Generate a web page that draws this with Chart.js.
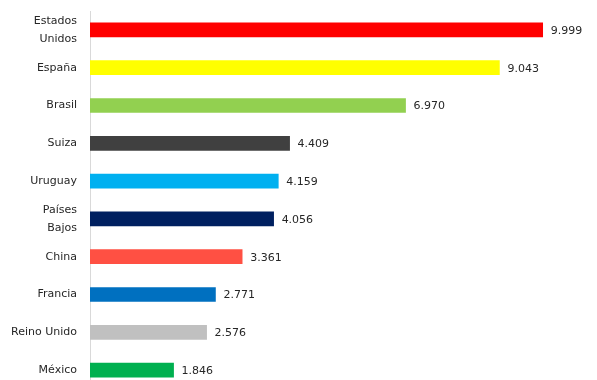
<!DOCTYPE html>
<html>
<head>
<meta charset="utf-8">
<script src="https://cdn.jsdelivr.net/npm/chart.js@4"></script>
<style>
  html, body { margin: 0; padding: 0; background: #fff; overflow: hidden; }
  #wrap { width: 597px; height: 380px; overflow: hidden; }
</style>
</head>
<body>
<div id="wrap"><canvas id="chart" width="597" height="400"></canvas></div>
<script>
// --- DATOS ---
const paises = [['Estados', 'Unidos'], 'España', 'Brasil', 'Suiza', 'Uruguay', ['Países', 'Bajos'], 'China', 'Francia', 'Reino Unido', 'México'];
const valores = [9999, 9043, 6970, 4409, 4159, 4056, 3361, 2771, 2576, 1846];
const colores = ['#FF0000', '#FFFF00', '#92D050', '#404040', '#00B0F0', '#002060', '#FF5043', '#0070C0', '#C0C0C0', '#00B050'];

const fuente = '"DejaVu Sans", sans-serif';

// separador de miles con punto (9.999)
function formatoMiles(v) {
    return String(v).replace(/\B(?=(\d{3})+(?!\d))/g, '.');
}

// Etiquetas de valor a la derecha de cada barra
const etiquetasValor = {
    id: 'etiquetasValor',
    afterDatasetsDraw(chart) {
        const ctx = chart.ctx;
        const meta = chart.getDatasetMeta(0);
        ctx.save();
        ctx.font = '11px ' + fuente;
        ctx.fillStyle = '#262626';
        ctx.textAlign = 'left';
        ctx.textBaseline = 'middle';
        meta.data.forEach((bar, i) => {
            ctx.fillText(formatoMiles(valores[i]), bar.x + 8, bar.y + 1);
        });
        ctx.restore();
    }
};

new Chart(document.getElementById('chart'), {
    type: 'bar',
    data: {
        labels: paises,
        datasets: [{
            data: valores,
            backgroundColor: colores,
            borderWidth: 0,
            barThickness: 14
        }]
    },
    options: {
        indexAxis: 'y',
        responsive: false,
        animation: false,
        layout: { padding: { top: 11, right: 9, bottom: 11, left: 0 } },
        plugins: {
            legend: { display: false },
            tooltip: { enabled: false }
        },
        scales: {
            x: {
                display: false,
                min: 0,
                max: 11000
            },
            y: {
                afterFit(scale) {
                    scale.width = 90;
                    scale.paddingTop = 0;
                    scale.paddingBottom = 0;
                },
                grid: { display: false, drawTicks: false },
                border: { display: true, color: '#D9D9D9', width: 1 },
                ticks: {
                    autoSkip: false,
                    padding: 13,
                    color: '#262626',
                    font: { family: fuente, size: 11, lineHeight: 1.6 }
                }
            }
        }
    },
    plugins: [etiquetasValor]
});
</script>
</body>
</html>
